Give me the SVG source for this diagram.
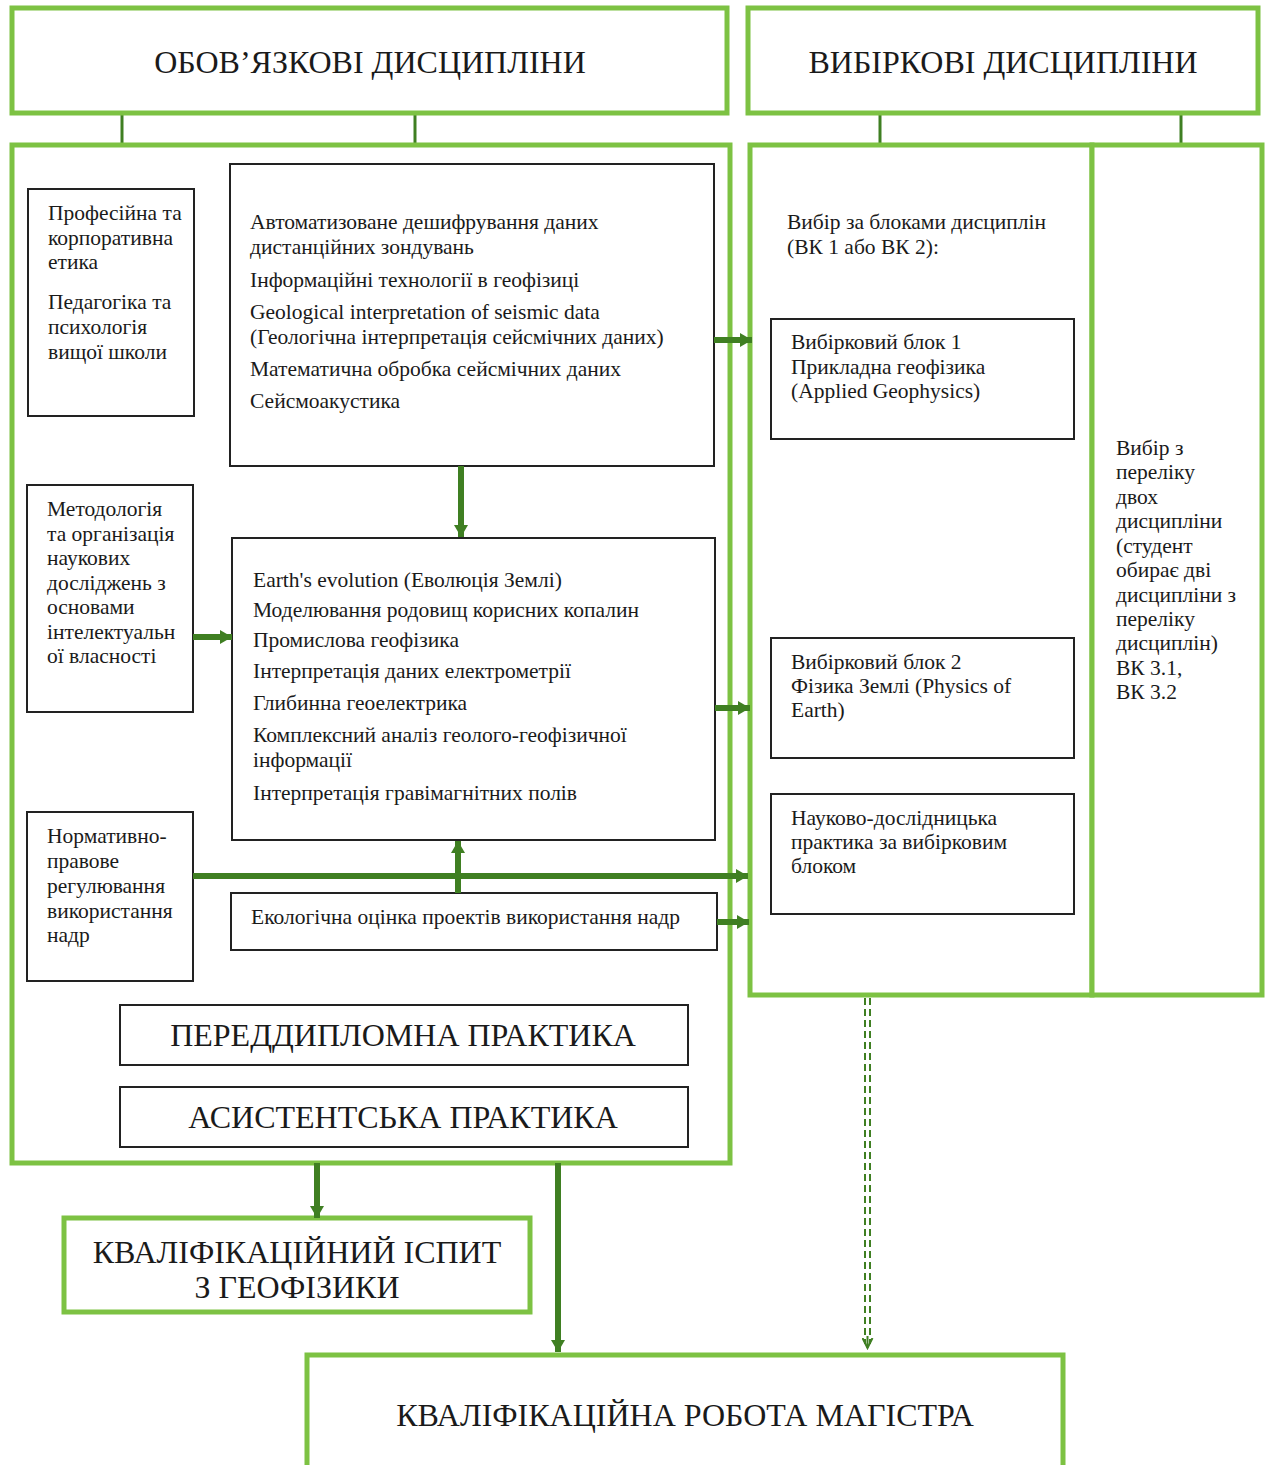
<svg xmlns="http://www.w3.org/2000/svg" width="1267" height="1465" viewBox="0 0 1267 1465">
<defs>
<style>
.g{fill:#fff;stroke:#7dc243;stroke-width:5}
.b{fill:#fff;stroke:#222;stroke-width:2}
.t{font-family:"Liberation Serif","Times New Roman",serif;font-size:21.5px;fill:#1a1a1a}
.h{font-family:"Liberation Serif","Times New Roman",serif;font-size:32px;fill:#1a1a1a;text-anchor:middle}
.c{stroke:#3f7f22;stroke-width:6;fill:none}
.thin{stroke:#3f7f22;stroke-width:3;fill:none}
.d{stroke:#3f7f22;stroke-width:2;stroke-dasharray:7 4;fill:none}
</style>
<marker id="ah" markerUnits="userSpaceOnUse" markerWidth="14" markerHeight="16" refX="12" refY="8" orient="auto">
<path d="M0,1 L12,8 L0,15 Z" fill="#3f7f22"/>
</marker>
<marker id="ahs" markerUnits="userSpaceOnUse" markerWidth="12" markerHeight="12" refX="10" refY="6" orient="auto">
<path d="M0,1 L10,6 L0,11" fill="none" stroke="#3f7f22" stroke-width="2"/>
</marker>
</defs>
<rect width="1267" height="1465" fill="#fff"/>

<g id="connectors">
<line class="thin" x1="122" y1="113" x2="122" y2="145"/>
<line class="thin" x1="415" y1="113" x2="415" y2="145"/>
<line class="thin" x1="880" y1="113" x2="880" y2="145"/>
<line class="thin" x1="1181" y1="113" x2="1181" y2="145"/>
</g>

<g id="mandatory-header"><rect class="g" x="12" y="8" width="715" height="105"/><text class="h" x="370" y="73">ОБОВ’ЯЗКОВІ ДИСЦИПЛІНИ</text></g>
<g id="elective-header"><rect class="g" x="748" y="8" width="510" height="105"/><text class="h" x="1003" y="73">ВИБІРКОВІ ДИСЦИПЛІНИ</text></g>

<g id="mandatory-frame"><rect class="g" x="12" y="145" width="718" height="1018"/></g>
<g id="elective-blocks-frame"><rect class="g" x="750" y="145" width="342" height="850"/>
<text class="t" x="787" y="229">Вибір за блоками дисциплін</text>
<text class="t" x="787" y="254">(ВК 1 або ВК 2):</text></g>
<g id="elective-list-frame"><rect class="g" x="1092" y="145" width="170" height="850"/>
<text class="t" x="1116" y="455">Вибір з</text>
<text class="t" x="1116" y="479">переліку</text>
<text class="t" x="1116" y="504">двох</text>
<text class="t" x="1116" y="528">дисципліни</text>
<text class="t" x="1116" y="553">(студент</text>
<text class="t" x="1116" y="577">обирає дві</text>
<text class="t" x="1116" y="602">дисципліни з</text>
<text class="t" x="1116" y="626">переліку</text>
<text class="t" x="1116" y="650">дисциплін)</text>
<text class="t" x="1116" y="675">ВК 3.1,</text>
<text class="t" x="1116" y="699">ВК 3.2</text></g>

<g id="ethics"><rect class="b" x="28" y="189" width="166" height="227"/>
<text class="t" x="48" y="220">Професійна та</text>
<text class="t" x="48" y="245">корпоративна</text>
<text class="t" x="48" y="269">етика</text>
<text class="t" x="48" y="309">Педагогіка та</text>
<text class="t" x="48" y="334">психологія</text>
<text class="t" x="48" y="359">вищої школи</text></g>

<g id="block-top"><rect class="b" x="230" y="164" width="484" height="302"/>
<text class="t" x="250" y="229">Автоматизоване дешифрування даних</text>
<text class="t" x="250" y="254">дистанційних зондувань</text>
<text class="t" x="250" y="287">Інформаційні технології в геофізиці</text>
<text class="t" x="250" y="319">Geological interpretation of seismic data</text>
<text class="t" x="250" y="344">(Геологічна інтерпретація сейсмічних даних)</text>
<text class="t" x="250" y="376">Математична обробка сейсмічних даних</text>
<text class="t" x="250" y="408">Сейсмоакустика</text></g>

<g id="methodology"><rect class="b" x="27" y="485" width="166" height="227"/>
<text class="t" x="47" y="516">Методологія</text>
<text class="t" x="47" y="541">та організація</text>
<text class="t" x="47" y="565">наукових</text>
<text class="t" x="47" y="590">досліджень з</text>
<text class="t" x="47" y="614">основами</text>
<text class="t" x="47" y="639">інтелектуальн</text>
<text class="t" x="47" y="663">ої власності</text></g>

<g id="block-middle"><rect class="b" x="232" y="538" width="483" height="302"/>
<text class="t" x="253" y="587">Earth's evolution (Еволюція Землі)</text>
<text class="t" x="253" y="617">Моделювання родовищ корисних копалин</text>
<text class="t" x="253" y="647">Промислова геофізика</text>
<text class="t" x="253" y="678">Інтерпретація даних електрометрії</text>
<text class="t" x="253" y="710">Глибинна геоелектрика</text>
<text class="t" x="253" y="742">Комплексний аналіз геолого-геофізичної</text>
<text class="t" x="253" y="767">інформації</text>
<text class="t" x="253" y="800">Інтерпретація гравімагнітних полів</text></g>

<g id="regulation"><rect class="b" x="27" y="812" width="166" height="169"/>
<text class="t" x="47" y="843">Нормативно-</text>
<text class="t" x="47" y="868">правове</text>
<text class="t" x="47" y="893">регулювання</text>
<text class="t" x="47" y="918">використання</text>
<text class="t" x="47" y="942">надр</text></g>

<g id="ecology"><rect class="b" x="231" y="893" width="486" height="57"/>
<text class="t" x="251" y="924">Екологічна оцінка проектів використання надр</text></g>

<g id="pre-diploma"><rect class="b" x="120" y="1005" width="568" height="60"/><text class="h" x="403" y="1046">ПЕРЕДДИПЛОМНА ПРАКТИКА</text></g>
<g id="assistant"><rect class="b" x="120" y="1087" width="568" height="60"/><text class="h" x="403" y="1128">АСИСТЕНТСЬКА ПРАКТИКА</text></g>

<g id="block1"><rect class="b" x="771" y="319" width="303" height="120"/>
<text class="t" x="791" y="349">Вибірковий блок 1</text>
<text class="t" x="791" y="374">Прикладна геофізика</text>
<text class="t" x="791" y="398">(Applied Geophysics)</text></g>
<g id="block2"><rect class="b" x="771" y="638" width="303" height="120"/>
<text class="t" x="791" y="669">Вибірковий блок 2</text>
<text class="t" x="791" y="693">Фізика Землі (Physics of</text>
<text class="t" x="791" y="717">Earth)</text></g>
<g id="research-practice"><rect class="b" x="771" y="794" width="303" height="120"/>
<text class="t" x="791" y="825">Науково-дослідницька</text>
<text class="t" x="791" y="849">практика за вибірковим</text>
<text class="t" x="791" y="873">блоком</text></g>

<g id="exam"><rect class="g" x="64" y="1218" width="466" height="94"/>
<text class="h" x="297" y="1263">КВАЛІФІКАЦІЙНИЙ ІСПИТ</text>
<text class="h" x="297" y="1298">З ГЕОФІЗИКИ</text></g>
<g id="thesis"><rect class="g" x="307" y="1355" width="756" height="125"/>
<text class="h" x="685" y="1426">КВАЛІФІКАЦІЙНА РОБОТА МАГІСТРА</text></g>

<g id="arrows">
<line class="c" x1="461" y1="466" x2="461" y2="537" marker-end="url(#ah)"/>
<line class="c" x1="193" y1="637" x2="232" y2="637" marker-end="url(#ah)"/>
<line class="c" x1="714" y1="340" x2="752" y2="340" marker-end="url(#ah)"/>
<line class="c" x1="715" y1="708" x2="750" y2="708" marker-end="url(#ah)"/>
<line class="c" x1="193" y1="876" x2="748" y2="876" marker-end="url(#ah)"/>
<line class="c" x1="458" y1="893" x2="458" y2="841" marker-end="url(#ah)"/>
<line class="c" x1="717" y1="922" x2="749" y2="922" marker-end="url(#ah)"/>
<line class="c" x1="317" y1="1163" x2="317" y2="1218" marker-end="url(#ah)"/>
<line class="c" x1="558" y1="1163" x2="558" y2="1352" marker-end="url(#ah)"/>
<line class="d" x1="865" y1="998" x2="865" y2="1344"/>
<line class="d" x1="870" y1="998" x2="870" y2="1344"/>
<line stroke="#3f7f22" stroke-width="2" x1="867.5" y1="1336" x2="867.5" y2="1348" marker-end="url(#ahs)"/>
</g>
</svg>
